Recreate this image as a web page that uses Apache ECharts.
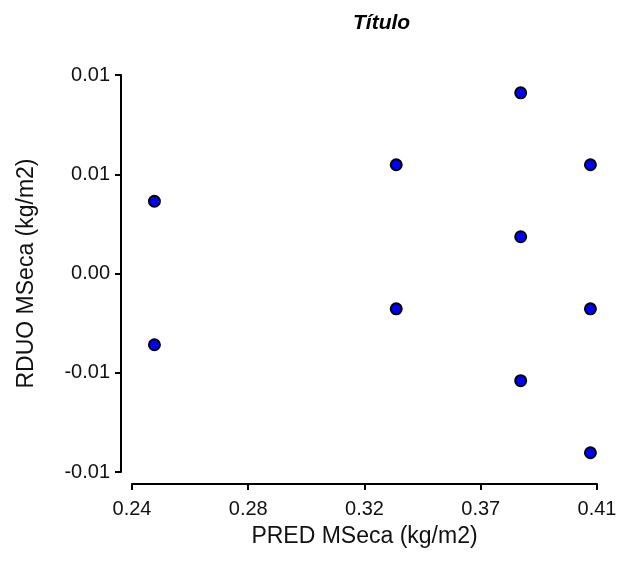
<!DOCTYPE html>
<html>
<head>
<meta charset="utf-8">
<script src="https://cdn.jsdelivr.net/npm/echarts@6/dist/echarts.min.js"></script>
<style>html,body{margin:0;padding:0;background:#fff}#c{width:640px;height:563px}</style>
</head>
<body>
<div id="c"></div>
<script>
var xValues = [0.2482, 0.2482, 0.3366, 0.3366, 0.3821, 0.3821, 0.3821, 0.4076, 0.4076, 0.4076];
var yValues = [0.00364, -0.00359, 0.00548, -0.00178, 0.0091, 0.00185, -0.0054, 0.00548, -0.00178, -0.00903];
var xTickLabels = ['0.24', '0.28', '0.32', '0.37', '0.41'];
var yTickLabels = ['-0.01', '-0.01', '0.00', '0.01', '0.01'];
var xMin = 0.24, xMax = 0.41, yMin = -0.01, yMax = 0.01;

var chart = echarts.init(document.getElementById('c'), null, {renderer: 'canvas'});
var font = '"Liberation Sans", Arial, sans-serif';
var xInterval = (xMax - xMin) / (xTickLabels.length - 1);
var yInterval = (yMax - yMin) / (yTickLabels.length - 1);
function idx(v, min, step) { return Math.round((v - min) / step); }
chart.setOption({
  animation: false,
  backgroundColor: '#fff',
  title: {
    text: 'Título', left: 348, top: 8,
    textStyle: {fontFamily: font, fontSize: 21, fontWeight: 'bold', fontStyle: 'italic', color: '#000'}
  },
  grid: {left: 132, right: 43, top: 75, bottom: 91},
  xAxis: {
    type: 'value', min: xMin, max: xMax, interval: xInterval, offset: 12,
    name: 'PRED MSeca (kg/m2)', nameLocation: 'middle', nameGap: 41,
    nameTextStyle: {fontFamily: font, fontSize: 23, color: '#111'},
    axisLine: {show: true, onZero: false, lineStyle: {color: '#000', width: 2}},
    axisTick: {show: true, length: 6, lineStyle: {color: '#000', width: 2}},
    axisLabel: {fontFamily: font, fontSize: 20, color: '#111', margin: 15,
      formatter: function (v) { return xTickLabels[idx(v, xMin, xInterval)]; }},
    splitLine: {show: false}
  },
  yAxis: {
    type: 'value', min: yMin, max: yMax, interval: yInterval, offset: 11,
    name: 'RDUO MSeca (kg/m2)', nameLocation: 'middle', nameGap: 83,
    nameTextStyle: {fontFamily: font, fontSize: 23, color: '#111'},
    axisLine: {show: true, onZero: false, lineStyle: {color: '#000', width: 2}},
    axisTick: {show: true, length: 6, lineStyle: {color: '#000', width: 2}},
    axisLabel: {fontFamily: font, fontSize: 20, color: '#111', margin: 11,
      formatter: function (v) { return yTickLabels[idx(v, yMin, yInterval)]; }},
    splitLine: {show: false}
  },
  series: [{
    type: 'scatter',
    symbol: 'circle', symbolSize: 11,
    itemStyle: {color: '#0000ff', borderColor: '#000', borderWidth: 2, opacity: 1},
    data: xValues.map(function (x, i) { return [x, yValues[i]]; })
  }]
});
</script>
</body>
</html>
